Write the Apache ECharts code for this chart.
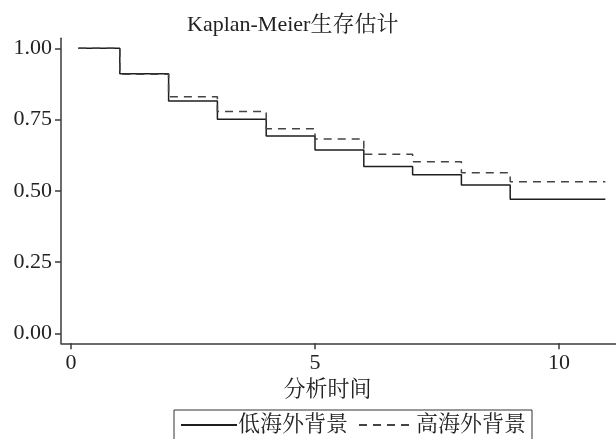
<!DOCTYPE html>
<html>
<head>
<meta charset="utf-8">
<script src="https://cdn.jsdelivr.net/npm/echarts@6/dist/echarts.min.js"></script>
<style>
html,body{margin:0;padding:0;background:#fff;}
#main{width:616px;height:439px;}
</style>
</head>
<body>
<div id="main"></div>
<script>
const titleText = 'Kaplan-Meier生存估计';
const xAxisTitle = '分析时间';
const seriesNames = ['低海外背景', '高海外背景'];
const times = [0.15, 1, 2, 3, 4, 5, 6, 7, 8, 9, 10.95];
const lowValues = [1.000, 0.911, 0.815, 0.751, 0.692, 0.643, 0.585, 0.556, 0.520, 0.470, 0.470];
const highValues = [1.000, 0.909, 0.830, 0.778, 0.718, 0.682, 0.628, 0.602, 0.563, 0.532, 0.532];
const xTicks = [0, 5, 10];
const yTicks = [0, 0.25, 0.5, 0.75, 1];

const FONT = "'Liberation Serif', 'Noto Serif CJK SC', 'Noto Sans CJK SC', serif";
const TXT = '#222';
const AX = '#3a3a3a';

const chart = echarts.init(document.getElementById('main'), null, {renderer: 'canvas'});
chart.setOption({
  animation: false,
  backgroundColor: '#fff',
  title: {
    text: titleText,
    left: 187, top: 14,
    padding: 0,
    textStyle: {fontFamily: FONT, fontSize: 22, fontWeight: 'normal', color: TXT}
  },
  legend: {
    left: 174, top: 410,
    padding: [4, 6, 12, 6],
    borderColor: '#333', borderWidth: 1,
    itemWidth: 56, itemHeight: 14, itemGap: 10,
    data: seriesNames,
    itemStyle: {opacity: 0},
    lineStyle: {opacity: 1},
    textStyle: {fontFamily: FONT, fontSize: 22, color: TXT, padding: [0, 0, 0, -4]}
  },
  grid: {left: 61, right: 0, top: 38.3, bottom: 95.7, containLabel: false},
  xAxis: {
    type: 'value',
    min: -0.205, max: 11.168,
    name: xAxisTitle,
    nameLocation: 'middle',
    nameGap: 31,
    nameTextStyle: {fontFamily: FONT, fontSize: 22, color: TXT, padding: [0, 22, 0, 0]},
    axisLine: {show: true, onZero: false, lineStyle: {color: AX, width: 1.5}},
    axisTick: {show: true, length: 6, customValues: xTicks, lineStyle: {color: AX, width: 1.5}},
    axisLabel: {customValues: xTicks, fontFamily: FONT, fontSize: 22, color: TXT, margin: 9, showMinLabel: true, showMaxLabel: true},
    splitLine: {show: false}
  },
  yAxis: {
    type: 'value',
    min: -0.0351, max: 1.0351,
    axisLine: {show: true, onZero: false, lineStyle: {color: AX, width: 1.5}},
    axisTick: {show: true, length: 6, customValues: yTicks, lineStyle: {color: AX, width: 1.5}},
    axisLabel: {customValues: yTicks, fontFamily: FONT, fontSize: 22, color: TXT, margin: 9,
      formatter: v => v.toFixed(2)},
    splitLine: {show: false}
  },
  series: [
    {
      name: seriesNames[0], type: 'line', step: 'end', symbol: 'none',
      data: times.map((t, i) => [t, lowValues[i]]),
      lineStyle: {color: '#1e1e1e', width: 1.5, type: 'solid'},
      itemStyle: {color: '#1e1e1e'}
    },
    {
      name: seriesNames[1], type: 'line', step: 'end', symbol: 'none',
      data: times.map((t, i) => [t, highValues[i]]),
      lineStyle: {color: '#444', width: 1.5, type: [8, 6]},
      itemStyle: {color: '#444'}
    }
  ]
});
</script>
</body>
</html>
